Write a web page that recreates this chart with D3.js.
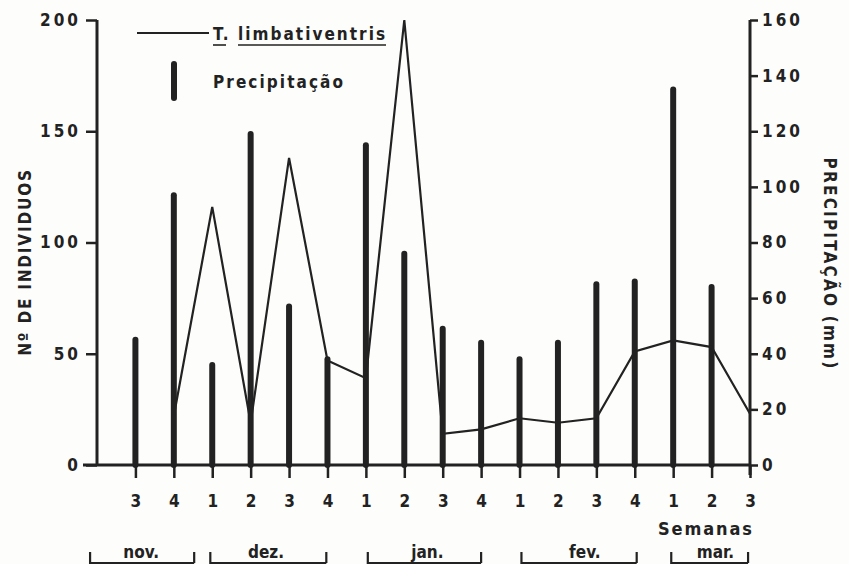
<!DOCTYPE html>
<html>
<head>
<meta charset="utf-8">
<script src="https://cdn.jsdelivr.net/npm/d3@7"></script>
<style>
  html, body { margin: 0; padding: 0; background: #fdfdfb; }
  svg text { font-family: "DejaVu Sans Condensed", "Liberation Sans Narrow", "DejaVu Sans", sans-serif; font-weight: bold; fill: #222; }
</style>
</head>
<body>
<div id="chart"></div>
<script>
// weeks along the x axis (index 0 = 3rd week of nov.)
const weekLabels = ["3","4","1","2","3","4","1","2","3","4","1","2","3","4","1","2","3"];
// precipitation per week, mm (right axis)
const precipitation = [45, 97, 36, 119, 57, 38, 115, 76, 49, 44, 38, 44, 65, 66, 135, 64, null];
// T. limbativentris, number of individuals (left axis)
const individuals = [null, 22, 116, 19, 138, 47, 39, 200, 14, 16, 21, 19, 21, 51, 56, 53, 23];
// months and the week span each bracket covers
const monthNames = ["nov.", "dez.", "jan.", "fev.", "mar."];
const monthStart = [-1.18, 1.95, 6.05, 10.05, 13.95];
const monthEnd = [1.53, 4.97, 9.0, 13.05, 15.95];
const monthCenter = [0.15, 3.4, 7.6, 11.7, 15.1];
const leftTicks = [0, 50, 100, 150, 200];
const rightTicks = [0, 20, 40, 60, 80, 100, 120, 140, 160];

const W = 849, H = 564;
const ink = "#222";
const svg = d3.select("#chart").append("svg").attr("width", W).attr("height", H);

const x = d3.scaleLinear().domain([-1, 16]).range([97, 750]);
const yL = d3.scaleLinear().domain([0, 200]).range([465, 20]);
const yR = d3.scaleLinear().domain([0, 160]).range([465, 20]);

// precipitation bars
svg.append("g").selectAll("line")
  .data(precipitation.map((v, i) => ({v, i})).filter(d => d.v != null))
  .join("line")
  .attr("x1", d => x(d.i)).attr("x2", d => x(d.i))
  .attr("y1", yR(0)).attr("y2", d => yR(d.v))
  .attr("stroke", ink).attr("stroke-width", 6).attr("stroke-linecap", "round");

// individuals line
const line = d3.line().defined(d => d.v != null).x(d => x(d.i)).y(d => yL(d.v));
svg.append("path")
  .datum(individuals.map((v, i) => ({v, i})))
  .attr("d", line)
  .attr("fill", "none").attr("stroke", ink).attr("stroke-width", 2.2).attr("stroke-linejoin", "miter");

// left axis
const axL = svg.append("g").attr("transform", `translate(${x(-1)},0)`)
  .call(d3.axisLeft(yL).tickValues(leftTicks).tickSize(11).tickPadding(5));
// bottom axis
const axB = svg.append("g").attr("transform", `translate(0,${yL(0)})`)
  .call(d3.axisBottom(x).tickValues(d3.range(0, 17)).tickSize(13).tickPadding(17)
    .tickFormat(i => weekLabels[i]));
// right axis
const axR = svg.append("g").attr("transform", `translate(${x(16)},0)`)
  .call(d3.axisRight(yR).tickValues(rightTicks).tickSize(8).tickPadding(4));

[axL, axB, axR].forEach(g => {
  g.select(".domain").attr("stroke", ink).attr("stroke-width", 3);
  g.selectAll(".tick line").attr("stroke", ink).attr("stroke-width", 2.5);
  g.selectAll(".tick text").style("font-size", "17px").attr("fill", ink);
});
axL.select(".domain").attr("d", `M0,${yL(200)}V${yL(0)}`);
axL.selectAll(".tick text").attr("letter-spacing", "3px");
axB.select(".domain").attr("d", `M83,0H${x(16)}`);
axR.select(".domain").attr("d", `M0,${yR(160)}V${yR(0) + 10}`);
axR.selectAll(".tick text").attr("letter-spacing", "3px");

// axis titles
svg.append("text")
  .attr("transform", "translate(31,262) rotate(-90)")
  .attr("text-anchor", "middle").style("font-size", "17px").attr("letter-spacing", "1.8px")
  .text("Nº DE INDIVIDUOS");
svg.append("text")
  .attr("transform", "translate(824,264) rotate(90)")
  .attr("text-anchor", "middle").style("font-size", "17px").attr("letter-spacing", "2.2px")
  .text("PRECIPITAÇÃO (mm)");
svg.append("text")
  .attr("x", 752).attr("y", 535).attr("text-anchor", "end").style("font-size", "18px")
  .attr("textLength", 94).text("Semanas");

// months with brackets
const months = svg.append("g");
monthNames.forEach((m, k) => {
  const a = x(monthStart[k]), b = x(monthEnd[k]);
  months.append("path")
    .attr("d", `M${a},552V563H${b}M${b},552V563`)
    .attr("fill", "none").attr("stroke", ink).attr("stroke-width", 2.2);
  months.append("text")
    .attr("x", x(monthCenter[k])).attr("y", 558).attr("text-anchor", "middle")
    .style("font-size", "17px").text(m);
});

// legend
const lg = svg.append("g");
lg.append("line").attr("x1", 137).attr("x2", 209).attr("y1", 33).attr("y2", 33)
  .attr("stroke", ink).attr("stroke-width", 2.2);
lg.append("text").attr("x", 213).attr("y", 40).style("font-size", "17px")
  .attr("textLength", 172).text("T. limbativentris");
lg.append("line").attr("x1", 213).attr("x2", 226).attr("y1", 45).attr("y2", 45)
  .attr("stroke", ink).attr("stroke-width", 1.6);
lg.append("line").attr("x1", 238).attr("x2", 386).attr("y1", 45).attr("y2", 45)
  .attr("stroke", ink).attr("stroke-width", 1.6);
lg.append("line").attr("x1", 174).attr("x2", 174).attr("y1", 64).attr("y2", 98)
  .attr("stroke", ink).attr("stroke-width", 6).attr("stroke-linecap", "round");
lg.append("text").attr("x", 213).attr("y", 88).style("font-size", "17px")
  .attr("textLength", 130).text("Precipitação");
</script>
</body>
</html>
